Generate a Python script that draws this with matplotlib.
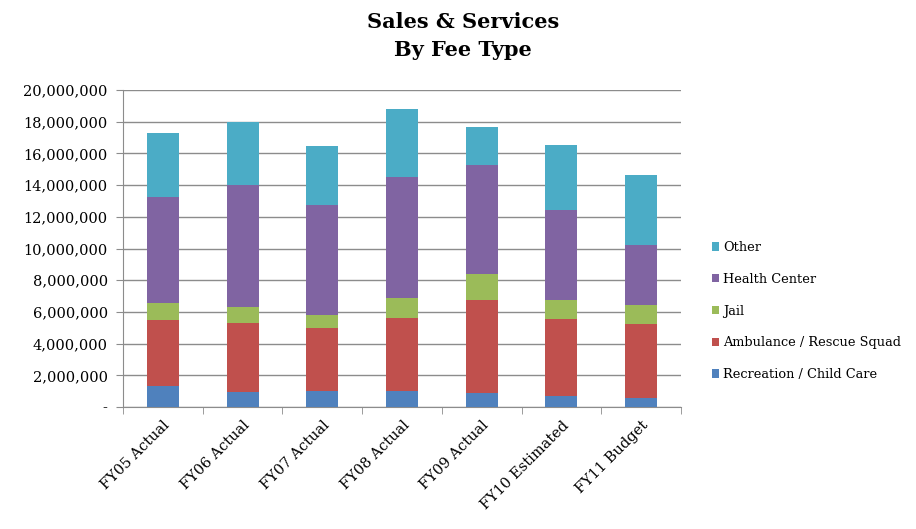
import numpy as np
import matplotlib
matplotlib.use("Agg")
import matplotlib.pyplot as plt
from matplotlib.ticker import FuncFormatter

years = ["FY05 Actual", "FY06 Actual", "FY07 Actual", "FY08 Actual",
         "FY09 Actual", "FY10 Estimated", "FY11 Budget"]

recreation = [1330000, 950000, 1010000, 1010000, 880000, 670000, 570000]
ambulance = [4140000, 4360000, 3980000, 4610000, 5860000, 4890000, 4670000]
jail = [1100000, 1010000, 800000, 1260000, 1660000, 1180000, 1180000]
health = [6710000, 7660000, 6950000, 7600000, 6860000, 5680000, 3790000]
other = [3980000, 4020000, 3700000, 4340000, 2380000, 4130000, 4420000]

series = [
    ("Recreation / Child Care", recreation, "#4F81BD"),
    ("Ambulance / Rescue Squad", ambulance, "#C0504D"),
    ("Jail", jail, "#9BBB59"),
    ("Health Center", health, "#8064A2"),
    ("Other", other, "#4BACC6"),
]

plt.rcParams["font.family"] = ["DejaVu Serif"]

fig = plt.figure(figsize=(9.16, 5.29), dpi=100)
ax = fig.add_axes([123 / 916, 1 - 407 / 529, 558 / 916, 317 / 529])

x = np.arange(len(years))
bottom = np.zeros(len(years))
handles = []
for name, vals, color in series:
    b = ax.bar(x, vals, width=0.4, bottom=bottom, color=color, label=name, zorder=3)
    handles.append(b)
    bottom += np.array(vals)

ax.set_xlim(-0.5, len(years) - 0.5)
ax.set_ylim(0, 20000000)
ax.set_yticks(np.arange(0, 20000001, 2000000))
ax.yaxis.set_major_formatter(FuncFormatter(lambda v, p: "-" if v == 0 else f"{int(v):,}"))
ax.grid(axis="y", color="#8c8c8c", linewidth=1, zorder=0)

ax.set_xticks(x)
ax.set_xticklabels(years, rotation=45, ha="right", rotation_mode="anchor", fontsize=10.5)
ax.set_xticks(np.arange(-0.5, len(years), 1), minor=True)
ax.tick_params(axis="x", which="major", length=0, pad=8)
ax.tick_params(axis="x", which="minor", length=5, color="#8c8c8c")
ax.tick_params(axis="y", length=5, color="#8c8c8c", labelsize=10.5, pad=6)

for s in ["top", "right"]:
    ax.spines[s].set_visible(False)
for s in ["left", "bottom"]:
    ax.spines[s].set_color("#8c8c8c")

fig.text(463 / 916, 1 - 36 / 529, "Sales & Services\nBy Fee Type", ha="center", va="center",
         fontsize=15, fontweight="bold", linespacing=1.45)

fig.legend(handles[::-1], [s[0] for s in series][::-1], loc="center left",
           bbox_to_anchor=(700 / 916, 1 - 311 / 529), frameon=False, fontsize=9.3,
           handlelength=0.6, handleheight=0.6, handletextpad=0.3, labelspacing=1.45)

fig.savefig("out.png", dpi=100)
